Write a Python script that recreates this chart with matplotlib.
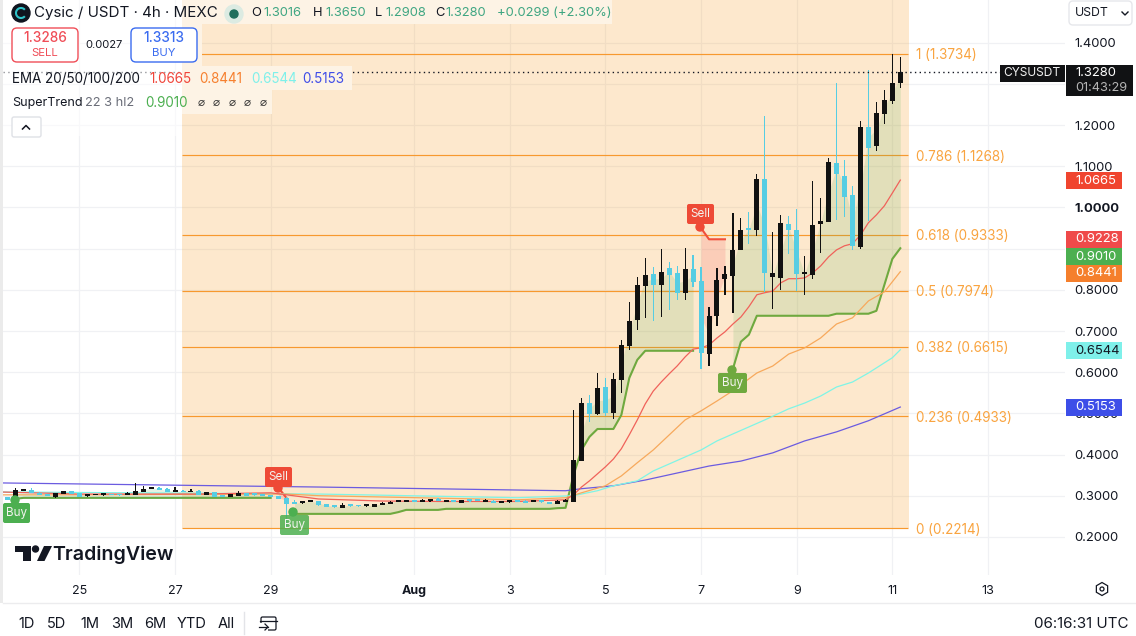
import matplotlib
matplotlib.use('Agg')
import matplotlib.pyplot as plt
import matplotlib.patches as patches
import numpy as np

plt.rcParams['font.family'] = ['Inter', 'DejaVu Sans']

# 4h candles, bar 0 = 25 Jul 00:00
first_bar = -9
opens = [.296, .290, .3117, .314, .3076, .3044, .297, .3044, .3117, .3068, .300, .301, .3027, .3036, .302, .3027, .302, .309, .3173,
         .319, .3165, .310, .3117, .309, .3117, .302, .309, .2995, .297, .2995, .3068, .3044, .302, .2995, .2995, .2946, .2825,
         .2833, .285, .2874, .280, .2744, .270, .2776, .2768, .276, .2728, .2776, .280, .2857, .2857, .2874, .2857, .288, .2898,
         .2857, .2874, .2825, .2898, .2898, .2857, .2874, .2833, .2857, .2874, .285, .2857, .2866, .285, .280, .2857,
         .285, .385, .525, .499, .564, .501, .581, .664, .727, .810, .839, .812, .853, .841, .793, .851, .822, .644, .737, .827,
         .834, .897, .948, .946, 1.069, .831, .829, .960, .946, .839, .836, .960, .965, 1.108, 1.077, 1.031, .904, 1.196, 1.150,
         1.227, 1.259, 1.3016]
highs = [.297, .319, .3157, .319, .310, .3044, .3068, .3117, .3117, .3068, .302, .305, .3068, .3036, .303, .309, .331, .324, .321,
         .3214, .319, .3214, .314, .3165, .314, .309, .309, .302, .3044, .3117, .3068, .3044, .302, .302, .2995, .297, .2898,
         .285, .2874, .2874, .280, .2776, .2825, .2776, .2768, .2776, .280, .2857, .2874, .2898, .2898, .2874, .292, .2898, .2946,
         .2898, .2874, .2898, .2898, .2898, .2914, .2898, .285, .2898, .2874, .2898, .2898, .2866, .285, .2898, .292,
         .508, .538, .545, .598, .586, .598, .679, .771, .832, .878, .856, .899, .868, .858, .902, .885, .856, .759, .853, .858,
         .987, .975, .989, 1.082, 1.223, .941, .982, .980, .997, .883, 1.065, 1.023, 1.121, 1.303, 1.116, 1.052, 1.210, 1.334, 1.257,
         1.286, 1.3734, 1.3650]
lows = [.2895, .2895, .3117, .306, .3027, .2995, .2946, .3044, .3044, .297, .297, .301, .2995, .301, .300, .3027, .302, .309, .3173,
        .314, .309, .310, .309, .309, .302, .302, .297, .297, .297, .2995, .2995, .2995, .2995, .297, .292, .222, .280,
        .280, .285, .275, .2728, .2695, .270, .2728, .2728, .2728, .2728, .2776, .280, .285, .2857, .2857, .2857, .285, .2874,
        .2857, .2857, .2825, .285, .2874, .2857, .2825, .2833, .2825, .2857, .2833, .2857, .2825, .280, .280, .2857,
        .285, .385, .479, .496, .494, .487, .550, .654, .703, .732, .725, .734, .751, .776, .776, .807, .608, .615, .712, .788,
        .744, .897, .912, .931, .795, .754, .800, .887, .797, .788, .827, .890, .965, .970, .977, .897, .899, .967, 1.137,
        1.203, 1.252, 1.2908]
closes = [.2898, .314, .314, .306, .3027, .2995, .3068, .3117, .3044, .297, .302, .3027, .3044, .301, .301, .3044, .3117, .3165, .319,
          .314, .309, .3117, .309, .3108, .302, .309, .297, .297, .3044, .3068, .2995, .302, .2995, .297, .292, .280, .280,
          .285, .2874, .2776, .2728, .2728, .2776, .276, .275, .2776, .280, .2833, .2857, .2874, .2874, .2857, .2874, .2898, .2874,
          .2874, .2857, .2898, .2874, .2874, .2874, .2825, .285, .2874, .2857, .2833, .2874, .285, .280, .2874, .2874,
          .387, .525, .499, .562, .501, .584, .666, .725, .812, .836, .812, .844, .836, .793, .851, .819, .647, .737, .824, .839,
          .897, .946, .946, 1.069, .841, .841, .963, .946, .839, .841, .958, .967, 1.111, 1.082, 1.026, .907, 1.196, 1.145, 1.230,
          1.261, 1.3016, 1.3280]

ema20_bars = [-10, 0, 15, 24, 26, 30, 38, 45, 55, 61, 62, 63, 64, 65, 66, 67, 68, 69, 70, 71, 72, 73, 74, 75, 76, 77, 78, 79, 80, 81,
              82, 83, 84, 85, 86, 87, 88, 89, 90, 91, 92, 93, 94, 95, 96, 97, 98, 99, 100, 101, 102, 103]
ema20 = [.309, .304, .304, .307, .302, .292, .287, .286, .286, .290, .302, .321, .336, .353, .370, .389, .414, .448, .484, .523,
         .554, .576, .596, .615, .637, .656, .659, .666, .683, .698, .717, .734, .759, .788, .793, .797, .817, .827, .827, .829,
         .841, .858, .880, .897, .907, .912, .933, .963, .982, 1.004, 1.035, 1.0665]
ema50_bars = [-10, 0, 26, 30, 55, 61, 63, 66, 68, 70, 72, 76, 78, 80, 82, 85, 87, 89, 91, 93, 95, 97, 99, 101, 103]
ema50 = [.302, .302, .304, .300, .290, .295, .307, .324, .348, .380, .411, .484, .506, .530, .555, .598, .615, .644, .659, .683,
         .717, .732, .773, .795, .8441]
ema100_bars = [-10, 30, 55, 62, 65, 67, 70, 72, 78, 80, 86, 89, 91, 93, 95, 97, 99, 102, 103]
ema100 = [.309, .304, .295, .300, .312, .324, .336, .360, .411, .433, .484, .511, .525, .542, .564, .576, .598, .635, .6544]
ema200_bars = [-10, 30, 61, 63, 67, 71, 75, 79, 83, 87, 91, 95, 99, 103]
ema200 = [.331, .321, .312, .317, .324, .338, .355, .372, .384, .404, .433, .455, .482, .5153]

# supertrend runs, one value per bar
st_up1_first = -8
st_up1 = [.2925, .2947, .2947, .2947, .2947, .2947, .2947, .2947, .2947, .2947, .2947, .2947, .2947, .2947, .2947, .2947, .2947,
          .2947, .2947, .2947, .2947, .2947, .2947, .2947, .2947, .2947, .2947, .2947, .2947, .2947, .2947, .2947, .2947]
st_dn1_first = 25
st_dn1 = [.319, .294]
st_up2_first = 27
st_up2 = [.2558, .2558, .2558, .2558, .2558, .2558, .2558, .2558, .2558, .2558, .2558, .2558, .2558, .2600, .2655, .2655, .2655,
          .2655, .2655, .268, .268, .268, .268, .268, .268, .268, .268, .268, .268, .268, .268, .268, .268, .2697, .2705,
          .350, .411, .443, .462, .462, .462, .496, .586, .630, .652, .652, .652, .652, .652, .652, .652]
st_dn2_first = 78
st_dn2 = [.950, .9228, .9228, .9228]
st_up3_first = 82
st_up3 = [.608, .674, .691, .737, .737, .737, .737, .737, .737, .737, .737, .737, .737, .742, .742, .742, .742, .742, .749, .812,
          .875, .9010]

fib_ratios = ['1', '0.786', '0.618', '0.5', '0.382', '0.236', '0']
fib_prices = [1.3734, 1.1268, 0.9333, 0.7974, 0.6615, 0.4933, 0.2214]

price_ticks = [0.2, 0.3, 0.4, 0.5, 0.6, 0.7, 0.8, 0.9, 1.0, 1.1, 1.2, 1.3, 1.4]
hidden_ticks = [0.9, 1.3]  # sit under the price tags
day_ticks = [0, 2, 4, 7, 9, 11, 13, 15, 17, 19]
day_labels = ['25', '27', '29', 'Aug', '3', '5', '7', '9', '11', '13']
last_price = 1.3280

W, H = 1136, 636
BAR_PX = 7.97
def bar_at(px):
    return 103 - (900.3 - px) / BAR_PX
def price_at(py):
    return 1.5040 - 0.002429 * py

fig = plt.figure(figsize=(W / 100, H / 100), dpi=100)
ax = fig.add_axes([3 / W, (H - 575) / H, 1062 / W, 575 / H])
ax.set_xlim(bar_at(3), bar_at(1065))
ax.set_ylim(price_at(575), price_at(0))
for s in ax.spines.values():
    s.set_visible(False)

ax.set_yticks(price_ticks)
ax.set_yticklabels(['' if p in hidden_ticks else f'{p:.4f}' for p in price_ticks])
ax.yaxis.tick_right()
ax.set_xticks([d * 6 for d in day_ticks])
ax.set_xticklabels(day_labels)
ax.tick_params(axis='y', length=0, pad=7, labelsize=9.4, labelcolor='#131722')
ax.tick_params(axis='x', length=0, pad=7, labelsize=9, labelcolor='#131722')
for lab, p in zip(ax.get_yticklabels(), price_ticks):
    if p == 1.0:
        lab.set_fontweight('bold')
ax.get_xticklabels()[3].set_fontweight('bold')
ax.grid(color='#f0f1f4', linewidth=0.9, zorder=0)
ax.set_axisbelow(True)

# fib box
x0, x1 = bar_at(182), bar_at(908.5)
ax.add_patch(patches.Rectangle((x0, fib_prices[-1]), x1 - x0, 3, color='#f89a1c', alpha=0.22, lw=0, zorder=1))
ax.hlines(fib_prices, x0, x1, color='#f7992e', linewidth=0.85, zorder=2)
for r, p in zip(fib_ratios, fib_prices):
    ax.text(bar_at(916), p, f'{r} ({p:.4f})', color='#f9a440', fontsize=9.7, va='center_baseline', ha='left', zorder=2)

bars = np.arange(first_bar, first_bar + len(closes))
o, h, l, c = [np.array(a) for a in (opens, highs, lows, closes)]
mid = (o + c) / 2

# supertrend runs with their shading
runs = [(st_up1_first, st_up1, '#4caf50', '#6aa944'), (st_dn1_first, st_dn1, '#f23645', '#f0503c'),
        (st_up2_first, st_up2, '#4caf50', '#6fa93f'), (st_dn2_first, st_dn2, '#f23645', '#f0503c'),
        (st_up3_first, st_up3, '#4caf50', '#6fa93f')]
for start, vals, fill_c, line_c in runs:
    xs = np.arange(start, start + len(vals))
    ax.fill_between(xs, vals, mid[xs - first_bar], color=fill_c, alpha=0.15, lw=0, zorder=3)
    ax.plot(xs, vals, color=line_c, linewidth=1.5, zorder=4, solid_joinstyle='round')

ax.plot(ema200_bars, ema200, color='#6b5be0', linewidth=0.9, zorder=4)
ax.plot(ema100_bars, ema100, color='#7ff5e6', linewidth=0.9, zorder=4)
ax.plot(ema50_bars, ema50, color='#f7a95c', linewidth=0.9, zorder=4)
ax.plot(ema20_bars, ema20, color='#f0625a', linewidth=0.9, zorder=4)

# candles, wicks as 1px bars so they snap to the pixel grid
up = c >= o
colors = np.where(up, '#111111', '#56cde3')
ax.bar(bars, h - l, bottom=l, width=1.2 / BAR_PX, color=colors, lw=0, zorder=5)
body_min = 0.0035
ax.bar(bars, np.maximum(np.abs(c - o), body_min), bottom=np.minimum(o, c), width=5 / BAR_PX, color=colors, lw=0, zorder=5)
ax.axhline(last_price, color='#131722', linewidth=1, linestyle=(0, (1, 2.4)), zorder=6)

# everything around the chart, in screen pixels
ui = fig.add_axes([0, 0, 1, 1])
ui.set_xlim(0, W)
ui.set_ylim(H, 0)
ui.axis('off')

def box(x, y, w, h, color, **kw):
    ui.add_patch(patches.Rectangle((x, y), w, h, facecolor=color, lw=0, **kw))
def rbox(x, y, w, h, face, edge='none', r=3, lw=1, alpha=None):
    ui.add_patch(patches.FancyBboxPatch((x + r, y + r), w - 2 * r, h - 2 * r, boxstyle=f'round,pad={r},rounding_size={r}',
                                        facecolor=face, edgecolor=edge, linewidth=lw, alpha=alpha))
def txt(x, y, s, size=9.3, color='#131722', ha='left', **kw):
    ui.text(x, y, s, fontsize=size, color=color, ha=ha, va='center', **kw)

box(0, 0, 3, 603, '#ebebeb')
ui.plot([3, W], [603, 603], color='#ececee', lw=1)

# legend backdrops
box(182, 0, 430, 24, '#fdf3e5')
box(182, 24, 20, 42, '#fdf3e5')
box(182, 66, 170, 24, '#fdf3e5')
box(182, 90, 90, 24, '#fdf3e5')
box(3, 0, 179, 136, 'white', alpha=0.55)

ui.add_patch(patches.Circle((21, 13), 9, color='#10141f'))
ui.add_patch(patches.Arc((21, 13), 10, 10, theta1=40, theta2=320, color='#2fc2c9', lw=1.5))
txt(34, 12.5, 'Cysic / USDT · 4h · MEXC', size=10.9)
ui.add_patch(patches.Circle((234, 14), 9, color='#dcebe2'))
ui.add_patch(patches.Circle((234, 14), 4, color='#1f6f5c'))
green = '#3fa682'
for x, s, col in [(251, 'O', '#131722'), (263, '1.3016', green), (313, 'H', '#131722'), (325, '1.3650', green),
                  (375, 'L', '#131722'), (385, '1.2908', green), (435, 'C', '#131722'), (445, '1.3280', green),
                  (497, '+0.0299 (+2.30%)', green)]:
    txt(x, 13, s, size=9.3, color=col)

rbox(12, 28, 66, 34, 'white', '#f04e58', r=5, lw=1)
rbox(131, 28, 66, 34, 'white', '#3b6cf0', r=5, lw=1)
txt(45, 38.5, '1.3286', size=9.8, color='#f04e58', ha='center', fontweight='medium')
txt(45, 52.5, 'SELL', size=8.2, color='#f04e58', ha='center')
txt(164, 38.5, '1.3313', size=9.8, color='#3b6cf0', ha='center', fontweight='medium')
txt(164, 52.5, 'BUY', size=8.2, color='#3b6cf0', ha='center')
txt(104, 45.5, '0.0027', size=8, ha='center')

txt(12, 79, 'EMA 20/50/100/200', size=9.7)
for x, s, col in [(149, '1.0665', '#f0453a'), (199, '0.8441', '#f6802f'), (251, '0.6544', '#7ff0ea'), (302, '0.5153', '#3f4de8')]:
    txt(x, 79, s, size=9.7, color=col)
txt(12, 103, 'SuperTrend', size=9)
txt(85, 103, '22 3 hl2', size=9.2, color='#6a6d78')
txt(145, 103, '0.9010', size=9.7, color='#4caf50')
for x in [201, 216, 232, 247, 263]:
    txt(x, 103, '\u2300', size=8.5, ha='center', color='#333333')
rbox(12, 117, 29, 20, 'white', '#dfe1e6', r=2)
ui.plot([22.5, 26, 29.5], [129, 125.5, 129], color='#131722', lw=1.1)

# buy / sell flags
for x, y, w, dot, label, col, a in [(265, 467, 27, (278, 488), 'Sell', '#ee4a36', 1), (687, 204, 27, (700, 227), 'Sell', '#ee4a36', 1),
                                    (3, 503, 27, (15, 500), 'Buy', '#4caf50', 1), (280, 515, 29, (293, 512), 'Buy', '#4caf50', 0.85),
                                    (718, 373, 29, (732, 370), 'Buy', '#6fa93f', 1)]:
    ui.add_patch(patches.Circle(dot, 4, color=col))
    rbox(x, y, w, 20, col, r=2, alpha=a)
    txt(x + w / 2, y + 10, label, size=8.4, color='#f3f3ee', ha='center')

# price axis tags
box(1000, 65, 65, 17, '#111214')
txt(1032, 73.5, 'CYSUSDT', size=8.6, color='#f2f2f2', ha='center')
box(1066, 65, 67, 31, '#111214')
txt(1075, 73.5, f'{last_price:.4f}', size=9.4, color='white')
txt(1075, 88, '01:43:29', size=9.2, color='#b5b5b5')
tags = [(172, 1.0665, '#f0452f', 'white'), (231, 0.9228, '#ef4a4a', 'white'), (248, 0.9010, '#4caf50', 'white'),
        (265, 0.8441, '#f57f2c', 'white'), (342, 0.6544, '#7ff0ea', '#131722'), (399, 0.5153, '#3d4ee8', 'white')]
for y, v, col, tc in tags:
    box(1066, y, 56, 17, col)
    txt(1075, y + 8.5, f'{v:.4f}', size=9.4, color=tc)

rbox(1069, 1, 63, 24, 'white', '#e6e7eb', r=4)
txt(1075, 13, 'USDT', size=8.8)
ui.plot([1122, 1125, 1128], [12, 15, 12], color='#131722', lw=1)

# TradingView logo
ui.add_patch(patches.Polygon([(15, 546), (31, 546), (31, 561), (23, 561), (23, 552), (15, 552)], color='#131722', lw=0))
ui.add_patch(patches.Circle((35.5, 549), 3, color='#131722'))
ui.add_patch(patches.Polygon([(37, 561), (44, 546), (52, 546), (44.5, 561)], color='#131722', lw=0))
txt(52, 554.5, 'TradingView', size=14.1, fontweight='semibold')

# bottom bar
for x, s in [(27, '1D'), (57, '5D'), (90, '1M'), (122, '3M'), (155, '6M'), (192, 'YTD'), (226, 'All')]:
    txt(x, 624, s, size=10.5, ha='center')
ui.plot([244, 244], [612, 634], color='#e3e4e8', lw=1)
ui.add_patch(patches.FancyBboxPatch((261, 617), 15, 13, boxstyle='round,pad=0,rounding_size=1.5', fc='none', ec='#131722', lw=0.9))
ui.plot([260, 277], [621, 621], color='#131722', lw=0.9)
box(258, 623, 10, 8, 'white')
ui.plot([259, 268], [627, 627], color='#131722', lw=0.9)
ui.plot([265, 268, 265], [624, 627, 630], color='#131722', lw=0.9)
txt(1128, 624, '06:16:31 UTC', size=10.9, ha='right')
ui.add_patch(patches.RegularPolygon((1102, 589), 6, radius=6.5, fc='none', ec='#131722', lw=0.9))
ui.add_patch(patches.Circle((1102, 589), 2, fc='none', ec='#131722', lw=0.9))

fig.savefig('out.png', dpi=100)
